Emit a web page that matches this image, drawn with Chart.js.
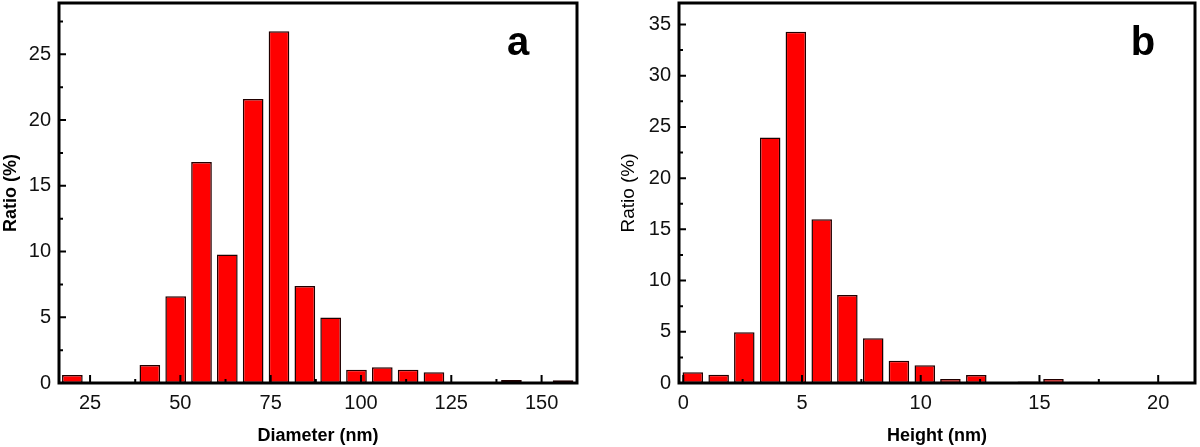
<!DOCTYPE html>
<html>
<head>
<meta charset="utf-8">
<script src="https://cdn.jsdelivr.net/npm/chart.js"></script>
<style>
  html, body { margin: 0; padding: 0; background: #fff; }
  #wrap { position: relative; width: 1200px; height: 447px; }
  canvas { position: absolute; top: 0; }
  #diameterChart { left: 0; }
  #heightChart { left: 600px; }
</style>
</head>
<body>
<div id="wrap">
  <canvas id="diameterChart" width="590" height="447"></canvas>
  <canvas id="heightChart" width="600" height="447"></canvas>
</div>
<script>
// panel a : diameter histogram (bin centres in nm, ratio in %)
const diameterBins = [20.1, 27.25, 34.4, 41.55, 48.7, 55.85, 63.0, 70.15, 77.3, 84.45,
  91.6, 98.75, 105.9, 113.05, 120.2, 127.35, 134.5, 141.65, 148.8, 155.95];
const diameterRatio = [0.6, 0, 0, 1.37, 6.6, 16.8, 9.78, 21.6, 26.75, 7.37,
  4.99, 1.01, 1.19, 1.0, 0.81, 0, 0, 0.23, 0, 0.2];
const diameterTicks = [25, 50, 75, 100, 125, 150];
const diameterRatioTicks = [0, 5, 10, 15, 20, 25];

// panel b : height histogram
const heightBins = [0.4, 1.49, 2.57, 3.66, 4.74, 5.83, 6.91, 8.0, 9.08, 10.17,
  11.25, 12.34, 13.42, 14.51, 15.59, 16.68, 17.76, 18.85, 19.93, 21.02];
const heightRatio = [1.04, 0.81, 4.95, 23.96, 34.3, 15.98, 8.59, 4.36, 2.18, 1.73,
  0.39, 0.78, 0, 0.15, 0.39, 0.12, 0, 0, 0, 0.12];
const heightTicks = [0, 5, 10, 15, 20];
const heightRatioTicks = [0, 5, 10, 15, 20, 25, 30, 35];

const FONT = "'Liberation Sans', Arial, sans-serif";

function minorTicks(major, min, max) {
  const out = [];
  const step = major[1] - major[0];
  const all = [major[0] - step].concat(major, [major[major.length - 1] + step]);
  for (let i = 0; i < all.length - 1; i++) {
    const m = (all[i] + all[i + 1]) / 2;
    if (m > min && m < max) out.push(m);
  }
  return out;
}

// inward ticks, box frame and panel letter
const framePlugin = {
  id: "frame",
  afterDatasetsDraw(chart, args, opts) {
    const { ctx, chartArea: a, scales } = chart;
    const x = scales.x, y = scales.y;
    ctx.save();
    ctx.strokeStyle = "#000";
    ctx.lineWidth = 2;
    ctx.beginPath();
    x.ticks.forEach((t) => {
      const px = x.getPixelForValue(t.value);
      ctx.moveTo(px, a.bottom); ctx.lineTo(px, a.bottom - 8);
    });
    minorTicks(x.ticks.map((t) => t.value), x.min, x.max).forEach((v) => {
      const px = x.getPixelForValue(v);
      ctx.moveTo(px, a.bottom); ctx.lineTo(px, a.bottom - 4);
    });
    y.ticks.forEach((t) => {
      const py = y.getPixelForValue(t.value);
      ctx.moveTo(a.left, py); ctx.lineTo(a.left + 7, py);
    });
    minorTicks(y.ticks.map((t) => t.value), y.min, y.max).forEach((v) => {
      const py = y.getPixelForValue(v);
      ctx.moveTo(a.left, py); ctx.lineTo(a.left + 4, py);
    });
    ctx.stroke();
    ctx.lineWidth = 3;
    ctx.strokeRect(a.left, a.top, a.right - a.left, a.bottom - a.top);
    ctx.fillStyle = "#000";
    ctx.font = "bold 40px " + FONT;
    ctx.textAlign = "center";
    ctx.textBaseline = "alphabetic";
    ctx.fillText(opts.letter, a.right - opts.letterRight, 55);
    ctx.restore();
  },
};

function drawHistogram(canvasId, setup) {
  const ctx = document.getElementById(canvasId).getContext("2d");
  return new Chart(ctx, {
    type: "bar",
    data: {
      datasets: [
        {
          data: setup.bins.map((b, i) => ({ x: b, y: setup.values[i] })),
          backgroundColor: "#ff0000",
          borderColor: "#200000",
          borderWidth: 1.5,
          borderSkipped: false,
          categoryPercentage: 1,
          barPercentage: 0.8,
        },
      ],
    },
    options: {
      responsive: false,
      animation: false,
      layout: { padding: { left: 0, top: 3, right: setup.padRight, bottom: 0 } },
      plugins: {
        legend: { display: false },
        tooltip: { enabled: false },
        frame: { letter: setup.letter, letterRight: setup.letterRight },
      },
      scales: {
        x: {
          type: "linear",
          min: setup.xMin,
          max: setup.xMax,
          offset: false,
          grid: { display: false, drawTicks: false },
          border: { display: false },
          afterBuildTicks: (s) => { s.ticks = setup.xTicks.map((v) => ({ value: v })); },
          afterFit: (s) => { s.height = 64; s.paddingLeft = 0; s.paddingRight = 0; },
          ticks: { color: "#111", padding: 8, maxRotation: 0, font: { family: FONT, size: 20 } },
          title: {
            display: true,
            text: setup.xTitle,
            color: "#000",
            padding: { top: 0, bottom: 0 },
            font: { family: FONT, size: 18, weight: "bold" },
          },
        },
        y: {
          min: 0,
          max: setup.yMax,
          grid: { display: false, drawTicks: false },
          border: { display: false },
          afterBuildTicks: (s) => { s.ticks = setup.yTicks.map((v) => ({ value: v })); },
          afterFit: (s) => { s.width = setup.yWidth; s.paddingTop = 0; s.paddingBottom = 0; },
          ticks: { color: "#111", padding: 8, font: { family: FONT, size: 20 } },
          title: {
            display: true,
            text: "Ratio (%)",
            color: "#000",
            padding: { top: setup.yTitlePad, bottom: 0 },
            font: { family: FONT, size: setup.yTitleSize, weight: setup.yTitleWeight },
          },
        },
      },
    },
    plugins: [framePlugin],
  });
}

drawHistogram("diameterChart", {
  bins: diameterBins,
  values: diameterRatio,
  xTicks: diameterTicks,
  yTicks: diameterRatioTicks,
  xMin: 16.4,
  xMax: 159.8,
  yMax: 28.9,
  padRight: 13,
  yWidth: 59,
  yTitlePad: 0,
  yTitleSize: 18,
  yTitleWeight: "bold",
  xTitle: "Diameter (nm)",
  letter: "a",
  letterRight: 59,
});

drawHistogram("heightChart", {
  bins: heightBins,
  values: heightRatio,
  xTicks: heightTicks,
  yTicks: heightRatioTicks,
  xMin: -0.18,
  xMax: 21.55,
  yMax: 37.1,
  padRight: 5,
  yWidth: 79,
  yTitlePad: 17,
  yTitleSize: 19,
  yTitleWeight: "normal",
  xTitle: "Height (nm)",
  letter: "b",
  letterRight: 52,
});
</script>
</body>
</html>
